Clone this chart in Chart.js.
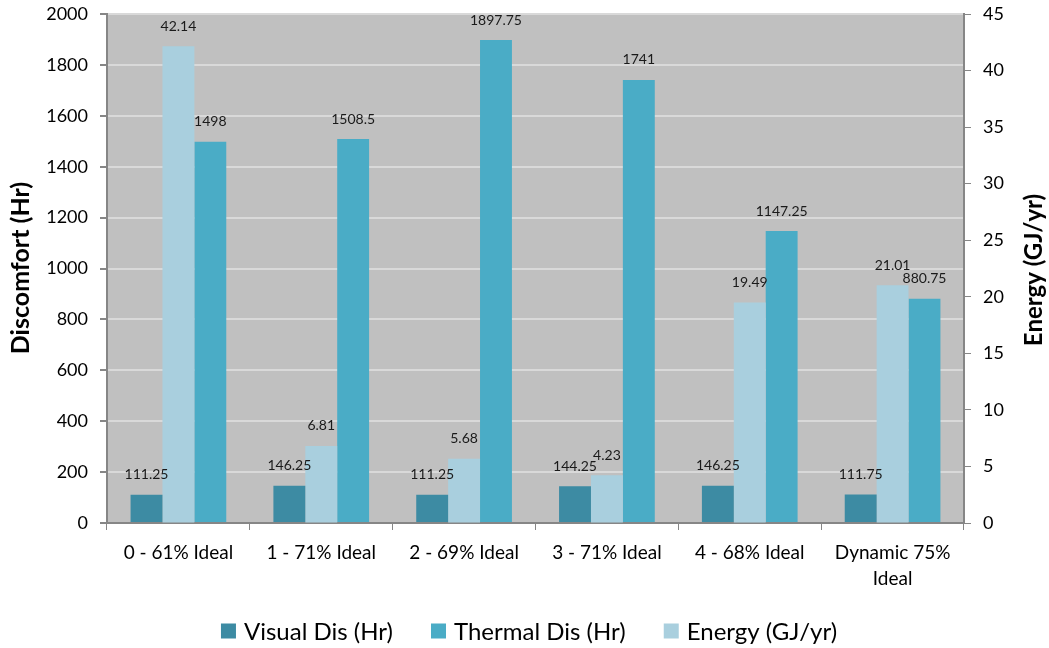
<!DOCTYPE html>
<html>
<head>
<meta charset="utf-8">
<script src="https://cdn.jsdelivr.net/npm/chart.js@4.4.1/dist/chart.umd.min.js"></script>
<style>
    body { margin: 0; background: #fff; }
    canvas { display: block; }
</style>
</head>
<body>
<canvas id="chart" width="1049" height="648"></canvas>
<script>
// categories and series
const CATEGORIES = ['0 - 61% Ideal', '1 - 71% Ideal', '2 - 69% Ideal', '3 - 71% Ideal', '4 - 68% Ideal', ['Dynamic 75%', 'Ideal']];
const VISUAL_DIS = [111.25, 146.25, 111.25, 144.25, 146.25, 111.75];
const THERMAL_DIS = [1498, 1508.5, 1897.75, 1741, 1147.25, 880.75];
const ENERGY = [42.14, 6.81, 5.68, 4.23, 19.49, 21.01];

const FONT = 'Lato, "Open Sans", sans-serif';
const AXIS_GRAY = '#868686';

// fill the plot area grey before anything is drawn
const plotBackground = {
    id: 'plotBackground',
    beforeDraw(chart) {
        let area = chart.chartArea;
        let ctx = chart.ctx;
        ctx.save();
        ctx.fillStyle = '#c0c0c0';
        ctx.fillRect(area.left, area.top, area.right - area.left, area.bottom - area.top);
        ctx.restore();
    }
};

// value labels above every bar
const barLabels = {
    id: 'barLabels',
    afterDatasetsDraw(chart) {
        let ctx = chart.ctx;
        ctx.save();
        ctx.font = '14px ' + FONT;
        ctx.fillStyle = '#1a1a1a';
        ctx.textAlign = 'center';
        ctx.textBaseline = 'middle';
        chart.data.datasets.forEach((ds, i) => {
            let meta = chart.getDatasetMeta(i);
            meta.data.forEach((bar, j) => {
                ctx.fillText(String(ds.data[j]), bar.x, bar.y - 20);
            });
        });
        ctx.restore();
    }
};

// both axis titles read bottom to top, and the legend sits low under the axis
const titlesAndLegend = {
    id: 'titlesAndLegend',
    afterDraw(chart) {
        let ctx = chart.ctx;

        ctx.save();
        ctx.fillStyle = '#000';
        ctx.textAlign = 'center';
        ctx.textBaseline = 'middle';
        [[21, 268, 25, 'Discomfort (Hr)'], [1034, 270, 24, 'Energy (GJ/yr)']].forEach(([x, y, size, text]) => {
            ctx.save();
            ctx.font = 'bold ' + size + 'px ' + FONT;
            ctx.translate(x, y);
            ctx.rotate(-Math.PI / 2);
            ctx.fillText(text, 0, 0);
            ctx.restore();
        });

        // legend in the order Visual, Thermal, Energy
        let order = [0, 2, 1];
        ctx.font = '24px ' + FONT;
        ctx.textAlign = 'left';
        let box = 15, gapText = 8, gapItem = 38;
        let widths = order.map(i => box + gapText + ctx.measureText(chart.data.datasets[i].label).width);
        let total = widths.reduce((a, b) => a + b, 0) + gapItem * (order.length - 1);
        let x = 529 - total / 2;
        let y = 631;
        order.forEach((i, k) => {
            let ds = chart.data.datasets[i];
            ctx.fillStyle = ds.backgroundColor;
            ctx.fillRect(x, y - box / 2, box, box);
            ctx.fillStyle = '#000';
            ctx.fillText(ds.label, x + box + gapText, y + 1);
            x += widths[k] + gapItem;
        });
        ctx.restore();
    }
};

const config = {
    type: 'bar',
    data: {
        labels: CATEGORIES,
        datasets: [
            {
                label: 'Visual Dis (Hr)',
                data: VISUAL_DIS,
                backgroundColor: '#3d8ba3',
                yAxisID: 'y'
            },
            {
                label: 'Energy (GJ/yr)',
                data: ENERGY,
                backgroundColor: '#a9cfde',
                yAxisID: 'y2'
            },
            {
                label: 'Thermal Dis (Hr)',
                data: THERMAL_DIS,
                backgroundColor: '#4aacc6',
                yAxisID: 'y'
            }
        ]
    },
    options: {
        responsive: false,
        animation: false,
        categoryPercentage: 0.67,
        barPercentage: 1.0,
        layout: {
            padding: { top: 14, left: 0, right: 0, bottom: 0 }
        },
        plugins: {
            legend: { display: false },
            tooltip: { enabled: false }
        },
        scales: {
            x: {
                grid: {
                    offset: true,
                    drawOnChartArea: false,
                    color: AXIS_GRAY,
                    tickLength: 7
                },
                border: { color: AXIS_GRAY, width: 2 },
                ticks: {
                    font: { family: FONT, size: 19, lineHeight: 1.35 },
                    color: '#000',
                    maxRotation: 0,
                    padding: 10
                },
                afterFit(scale) { scale.height = 125; }
            },
            y: {
                position: 'left',
                min: 0,
                max: 2000,
                ticks: {
                    stepSize: 200,
                    font: { family: FONT, size: 18 },
                    color: '#000',
                    padding: 12,
                    callback: v => String(v)
                },
                grid: {
                    color: '#d9d9d9',
                    lineWidth: 2,
                    tickColor: AXIS_GRAY,
                    tickLength: 7
                },
                border: { color: AXIS_GRAY, width: 2 },
                afterFit(scale) {
                    scale.width = 107;
                    scale.paddingTop = 0;
                    scale.paddingBottom = 0;
                }
            },
            y2: {
                position: 'right',
                min: 0,
                max: 45,
                ticks: {
                    stepSize: 5,
                    font: { family: FONT, size: 18 },
                    color: '#000',
                    padding: 12,
                    callback: v => String(v)
                },
                grid: {
                    drawOnChartArea: false,
                    color: AXIS_GRAY,
                    tickLength: 7
                },
                border: { color: AXIS_GRAY, width: 2 },
                afterFit(scale) {
                    scale.width = 85;
                    scale.paddingTop = 0;
                    scale.paddingBottom = 0;
                }
            }
        }
    },
    plugins: [plotBackground, barLabels, titlesAndLegend]
};

new Chart(document.getElementById('chart'), config);
</script>
</body>
</html>
